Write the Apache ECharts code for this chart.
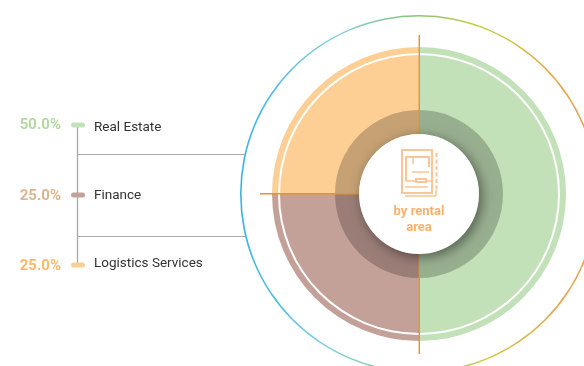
<!DOCTYPE html>
<html>
<head>
<meta charset="utf-8">
<style>
    html, body {margin: 0; padding: 0; background: #fff;}
    #main {width: 584px; height: 366px;}
</style>
<script src="https://cdn.jsdelivr.net/npm/echarts@6/dist/echarts.min.js"></script>
</head>
<body>
<div id="main"></div>
<script>
var categories = ['Real Estate', 'Finance', 'Logistics Services'];
var shareValues = [50, 25, 25];
var sliceColors = ['#c3e1b8', '#c4a198', '#fdcf94'];
var percentColors = ['#b5d9a3', '#dcb48f', '#fdb76a'];
var centerLabel = 'by rental\narea';

var cx = 419, cy = 194;
var rowY = [125, 195, 265];
var textY = [128, 196, 264];
var lineColor = '#a9a9a9';
var crossColor = '#e8922a';
var accent = '#fdc593';

function ring(inner, outer, color, z) {
    return {
        type: 'pie',
        silent: true,
        z: z,
        center: [cx, cy],
        radius: [inner, outer],
        label: {show: false},
        labelLine: {show: false},
        animation: false,
        data: [{value: 1, itemStyle: {color: color}}]
    };
}

function hLine(x1, y1, x2, y2, color, width, z, dash) {
    var style = {stroke: color, lineWidth: width || 1};
    if (dash) {
        style.lineDash = dash;
    }
    return {
        type: 'line',
        z: z || 1,
        shape: {x1: x1, y1: y1, x2: x2, y2: y2},
        style: style
    };
}

function iconRect(x, y, w, h) {
    return {
        type: 'rect',
        z: 12,
        shape: {x: x, y: y, width: w, height: h},
        style: {fill: 'none', stroke: accent, lineWidth: 2}
    };
}

var elements = [
    // leader lines on the left
    hLine(77.5, 125, 77.5, 265, lineColor, 1.3),
    hLine(77, 154.5, 245, 154.5, lineColor, 1),
    hLine(77, 236.5, 245, 236.5, lineColor, 1),
    // cross lines over the pie
    hLine(419.3, 35, 419.3, 354, crossColor, 1.4, 9),
    hLine(260, 193.7, 360, 193.7, crossColor, 1.4, 9),
    // white disc in the middle
    {
        type: 'circle',
        z: 10,
        shape: {cx: cx, cy: cy, r: 60},
        style: {fill: '#fff', shadowBlur: 12, shadowColor: 'rgba(0,0,0,0.45)', shadowOffsetX: 3, shadowOffsetY: 3}
    },
    {
        type: 'text',
        z: 12,
        style: {
            x: cx, y: 220, text: centerLabel, fill: '#fdb06a', align: 'center', verticalAlign: 'middle',
            font: 'bold 13px "Roboto"', lineHeight: 16
        }
    },
    // floor plan icon
    iconRect(402, 150, 30, 43),
    hLine(405, 157, 430, 157, accent, 2, 12),
    hLine(406, 157, 406, 181, accent, 2, 12),
    hLine(429, 157, 429, 167, accent, 2, 12),
    iconRect(416, 179, 10, 3),
    hLine(406, 181, 416, 181, accent, 1.5, 12),
    hLine(426, 181, 431, 181, accent, 1.5, 12),
    hLine(413, 157, 413, 164, accent, 1.5, 12),
    hLine(412, 172, 429, 172, accent, 1.5, 12),
    hLine(405, 187, 428, 187, accent, 1.5, 12),
    hLine(436.5, 153, 436.5, 190, accent, 2, 12, [4, 2.5]),
    hLine(405, 196, 436, 196, accent, 1.5, 12),
    hLine(436, 190, 436, 196, accent, 1.5, 12)
];

categories.forEach(function (name, i) {
    elements.push({
        type: 'rect',
        z: 3,
        shape: {x: 71, y: rowY[i] - 2.5, width: 14, height: 5, r: 2.5},
        style: {fill: sliceColors[i]}
    });
    elements.push({
        type: 'text',
        style: {x: 94, y: textY[i], text: name, fill: '#333', font: '13.5px "Roboto"', verticalAlign: 'middle'}
    });
    elements.push({
        type: 'text',
        style: {
            x: 61, y: rowY[i] + (i === 0 ? 0 : 1), text: shareValues[i].toFixed(1) + '%', fill: percentColors[i],
            font: 'bold 15px "Roboto"', align: 'right', verticalAlign: 'middle'
        }
    });
});

var myChart = echarts.init(document.getElementById('main'), null, {renderer: 'canvas'});

var option = {
    animation: false,
    series: [
        ring(177.4, 179, new echarts.graphic.LinearGradient(0, 0, 1, 0, [
            {offset: 0, color: '#35b2e8'},
            {offset: 0.25, color: '#8ccfe4'},
            {offset: 0.48, color: '#86c47c'},
            {offset: 0.68, color: '#cccc48'},
            {offset: 0.85, color: '#e2ae50'},
            {offset: 1, color: '#e89a50'}
        ]), 1),
        {
            type: 'pie',
            silent: true,
            z: 2,
            center: [cx, cy],
            radius: [0, 147],
            startAngle: 90,
            label: {show: false},
            labelLine: {show: false},
            animation: false,
            data: categories.map(function (name, i) {
                return {name: name, value: shareValues[i], itemStyle: {color: sliceColors[i]}};
            })
        },
        ring(139, 141, '#fff', 3),
        ring(60, 84, 'rgba(0,0,0,0.22)', 4)
    ],
    graphic: {elements: elements}
};

myChart.setOption(option);
</script>
</body>
</html>
